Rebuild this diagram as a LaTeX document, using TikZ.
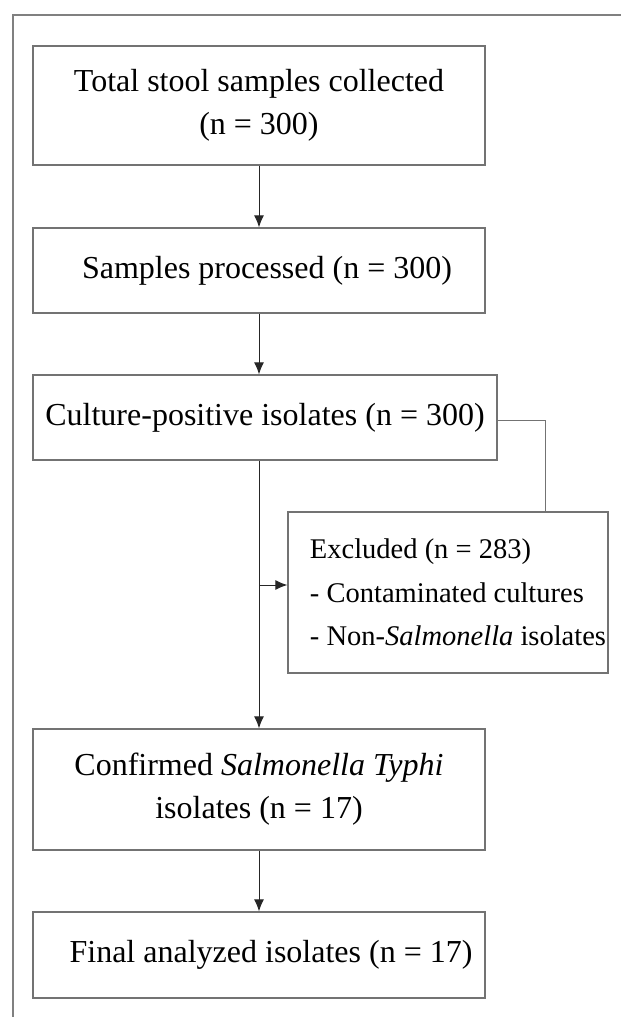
\documentclass[tikz,border=0pt]{standalone}
\usepackage{fontspec}
\setmainfont{Liberation Serif}
\usetikzlibrary{arrows.meta}

\begin{document}
\begin{tikzpicture}[x=1pt, y=1pt,
    box/.style={draw=black!55, line width=1.3pt, minimum width=452pt,
      inner sep=0pt, align=center, font=\fontsize{32}{43}\selectfont},
    link/.style={draw=black!85, line width=1pt,
      -{Latex[length=12pt, width=10pt]}}]
  \useasboundingbox (0,0) rectangle (621,-1017);

  % outer frame, cut by the page
  \draw[black!50, line width=2.2pt] (13,-1017) -- (13,-15) -- (621,-15);

  \node[box, minimum height=119pt] (total) at (259,-105.5)
    {Total stool samples collected\\(n = 300)};
  \node[box, minimum height=85pt]  (proc)  at (259,-270.5)
    {\hspace*{16pt}Samples processed (n = 300)};
  \node[box, minimum height=85pt, minimum width=464pt] (cult) at (265,-417.5)
    {Culture-positive isolates (n = 300)};
  \node[box, minimum height=161pt, minimum width=320pt,
    align=left, font=\fontsize{28.5}{43.5}\selectfont] (excl) at (448,-592.5)
    {\hspace*{20pt}Excluded (n = 283)\\
     \hspace*{20pt}- Contaminated cultures\\
     \hspace*{20pt}- Non-\textit{Salmonella} isolates};
  \node[box, minimum height=121pt] (conf)  at (259,-789.5)
    {Confirmed \textit{Salmonella Typhi}\\isolates (n = 17)};
  \node[box, minimum height=86pt]  (final) at (259,-955)
    {\hspace*{24pt}Final analyzed isolates (n = 17)};

  \coordinate (split) at (259,-585);
  \coordinate (side)  at (545,-420);

  \draw[link] (total) -- (proc);
  \draw[link] (proc.south) -- (proc.south |- cult.north);
  \draw[link] (proc.south |- cult.south) -- (conf.north);
  \draw[link] (split) -- (split -| excl.west);
  \draw[draw=black!55, line width=1pt] (cult.east |- side) -- (side) -- (side |- excl.north);
  \draw[link] (final |- conf.south) -- (final.north);
\end{tikzpicture}
\end{document}
